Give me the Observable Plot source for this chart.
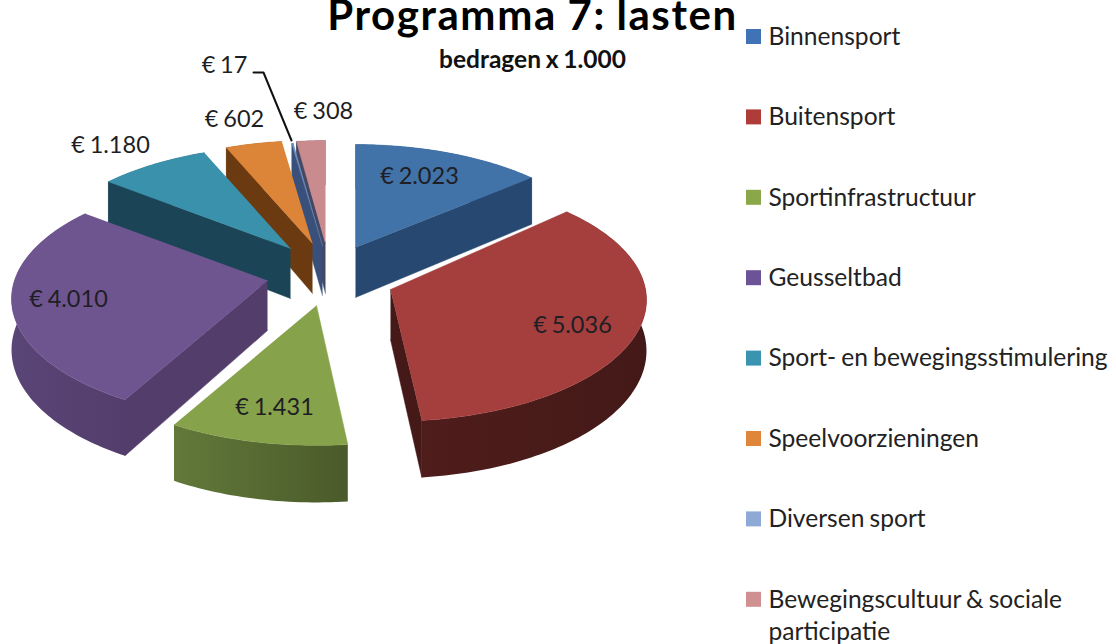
<!DOCTYPE html>
<html>
<head>
<meta charset="utf-8">
<style>
html,body{margin:0;padding:0;background:#fff}
svg{display:block}
.title text{letter-spacing:1.6px}
</style>
<script src="https://cdn.jsdelivr.net/npm/d3@7"></script>
<script src="https://cdn.jsdelivr.net/npm/@observablehq/plot@0.6"></script>
</head>
<body>
<div id="chart"></div>
<script>
// Data
const categories = ["Binnensport","Buitensport","Sportinfrastructuur","Geusseltbad","Sport- en bewegingsstimulering","Speelvoorzieningen","Diversen sport","Bewegingscultuur & sociale\nparticipatie"];
const values = [2023,5036,1431,4010,1180,602,17,308];

// Styles
const topColors  = ["#4172a8","#a43f3e","#86a24b","#6f5590","#3a91ab","#dc8538","#6f8fbf","#c98b8e"];
const swatches   = ["#3f73b5","#b03c3a","#8aa84a","#6c5296","#3a94b0","#e0863a","#8fa9d6","#d08f90"];
const wallStart  = ["#274870","#4f1d1b","#62793a","#5a4577","#1b4556","#6b3a10","#39507a","#454863"];
const wallEnd    = ["#274870","#431917","#4a5a2a","#523d6c","#1b4556","#6b3a10","#39507a","#454863"];
const sideColors = ["#274870","#451917","#4d5f2c","#533e6b","#1b4556","#6b3a10","#39507a","#454863"];

// Layout of the exploded pie: arc centre and visible tip of each slice
const cxs = [355,390,316,267,290,312,322,325];
const cys = [247,281,305,280,248,243,245,243];
const tipY = [247,289,305,280,248,243,245,243];
const labelX = [419,572,274,68,110,234,224,323];
const labelY = [176,325,407,299,145,119,65,111];
const drawOrder = [7,6,5,4,0,3,1,2];
const legendTop = 36, legendStep = 80.4, legendSwatchX = 753, legendTextX = 768;
const Rx = 253, Ry = 118.6, P = 0.152, H = 50;

const total = d3.sum(values);
const cum = d3.cumsum(values);
const a0 = values.map((v,i) => (cum[i]-v)/total*2*Math.PI);
const a1 = values.map((v,i) => cum[i]/total*2*Math.PI);

const persp = t => 1/(1+P*Math.cos(t));
const rim = (i,t) => ({x:cxs[i]+Rx*Math.sin(t)*persp(t), y:cys[i]-Ry*Math.cos(t)*persp(t), h:H*Math.pow(persp(t),0.8)});
const tip = i => ({x:cxs[i], y:tipY[i], h:H});
const down = p => ({x:p.x, y:p.y+p.h});
const arc = (i) => {
  const n = Math.max(2, Math.ceil((a1[i]-a0[i])/0.02));
  return d3.range(n+1).map(k => rim(i, a0[i]+(a1[i]-a0[i])*k/n));
};
// A radial wall shows only when the slice's top lies above its top edge.
const faces = (T, P0, M) => {
  const dx = P0.x - T.x;
  if (Math.abs(dx) < 1e-6) return false;
  return M.y < T.y + (P0.y - T.y) * (M.x - T.x) / dx;
};

const poly = (pts, fill) => Plot.line(pts, {x:"x", y:"y", fill, stroke:fill.startsWith("url")?"none":fill, strokeWidth:0.5, curve:"linear"});

const gradients = () => {
  const ns = "http://www.w3.org/2000/svg";
  const defs = document.createElementNS(ns,"defs");
  wallStart.forEach((c,i) => {
    const g = document.createElementNS(ns,"linearGradient");
    g.setAttribute("id","wall"+i);
    [[0,c],[1,wallEnd[i]]].forEach(([o,col]) => {
      const s = document.createElementNS(ns,"stop");
      s.setAttribute("offset",o); s.setAttribute("stop-color",col);
      g.appendChild(s);
    });
    defs.appendChild(g);
  });
  return defs;
};

const marks = [gradients];
for (const i of drawOrder) {
  const a = arc(i), T = tip(i), first = a[0], last = a[a.length-1], M = a[Math.floor(a.length/2)];
  marks.push(poly([...a, ...a.slice().reverse().map(down)], `url(#wall${i})`));
  if (faces(T, first, M)) marks.push(poly([T,first,down(first),down(T)], sideColors[i]));
  if (faces(T, last, M)) marks.push(poly([T,last,down(last),down(T)], sideColors[i]));
  marks.push(poly([T,...a], topColors[i]));
}

const euro = d3.formatLocale({decimal:",",thousands:".",grouping:[3],currency:["€ ",""]}).format("$,.0f");
const labelRows = values.map((v,i) => ({t:euro(v), x:labelX[i], y:labelY[i]}));
const legendRows = categories.map((c,i) => ({c, i, x:legendTextX, sx:legendSwatchX, y:legendTop+legendStep*i, fill:swatches[i]}));
const leader = [{x:253,y:72},{x:263,y:72},{x:291,y:140}];

marks.push(
  Plot.line(leader, {x:"x", y:"y", stroke:"#111", strokeWidth:2, curve:"linear"}),
  Plot.text(labelRows, {x:"x", y:"y", text:"t", fontSize:23.5, fill:"#1e1e24", textAnchor:"middle", lineAnchor:"middle"}),
  Plot.dot(legendRows, {x:"sx", y:"y", symbol:"square", r:8.46, fill:d=>d.fill, stroke:"none"}),
  Plot.text(legendRows, {x:"x", y:"y", text:"c", fontSize:24.6, fill:"#222", textAnchor:"start", lineAnchor:"top", dy:-14.4, lineHeight:1.3}),
  Plot.text(["Programma 7: lasten"], {x:()=>532, y:()=>29.5, fontSize:42, fontWeight:700, fill:"#000", textAnchor:"middle", lineAnchor:"bottom", className:"title"}),
  Plot.text(["bedragen x 1.000"], {x:()=>532, y:()=>60, fontSize:24.5, fontWeight:700, fill:"#111", textAnchor:"middle", lineAnchor:"middle"})
);

const chart = Plot.plot({
  width:1116, height:644, margin:0,
  x:{domain:[0,1116], range:[0,1116], axis:null},
  y:{domain:[0,644], range:[0,644], axis:null},
  color:{type:"identity"},
  style:{fontFamily:"Lato, 'Noto Sans', sans-serif", background:"#fff", wordSpacing:"-0.12em"},
  marks
});
document.getElementById("chart").appendChild(chart);
</script>
</body>
</html>
